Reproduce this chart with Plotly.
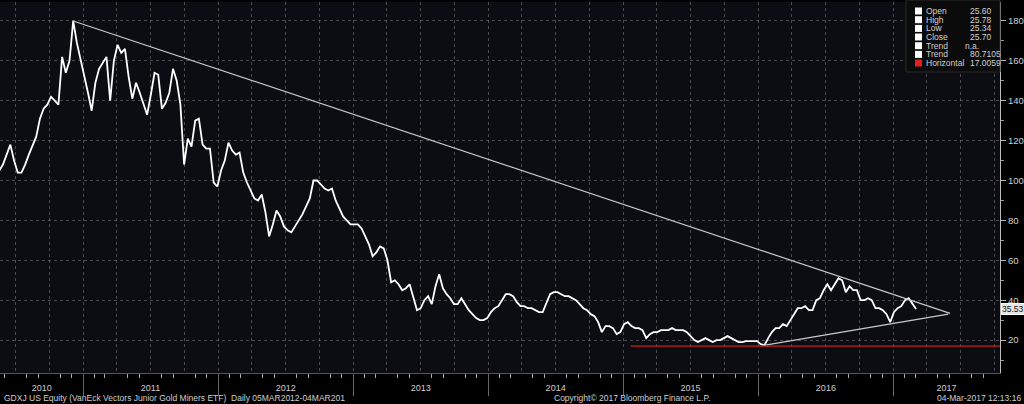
import pandas as pd
import plotly.graph_objects as go

# ---------------- data ----------------
price_end_date = "2017-03-03"
price_values = [
    105, 108, 113, 118, 110, 104, 104, 108, 113, 118,
    122, 131, 136, 138, 142, 140, 138, 162, 154, 160,
    180, 169, 161, 152, 144, 135, 149, 156, 159, 162,
    140, 160, 168, 164, 166, 152, 141, 149, 144, 139,
    133, 143, 154, 153, 136, 139, 144, 156, 150, 138,
    108, 121, 117, 130, 131, 118, 116, 116, 99, 97,
    105, 110, 119, 115, 113, 114, 104, 99, 95, 91,
    90, 93, 84, 72, 78, 85, 82, 77, 75, 74,
    77, 80, 83, 87, 91, 100, 100, 98, 96, 95,
    96, 90, 86, 82, 80, 78, 78, 78, 76, 72,
    68, 62, 64, 67, 66, 60, 49, 50, 48, 45,
    46, 48, 41, 35, 36, 40, 42, 38, 47, 53,
    46, 43, 41, 38, 38, 41, 38, 35, 33, 31,
    30, 30, 31, 34, 36, 37, 40, 43, 43, 42,
    39, 37, 37, 36, 36, 35, 34, 34, 39, 43,
    44, 44, 43, 42, 42, 41, 40, 38, 36, 35,
    33, 32, 29, 24, 27, 27, 26, 23, 24, 28,
    29, 27, 26, 26, 25, 21, 23, 24, 24, 25,
    25, 25, 26, 25, 25, 25, 24, 22, 20, 19,
    20, 21, 20, 19, 20, 20, 21, 22, 21, 20,
    19, 19, 19.5, 19.5, 19.5, 19.5, 18, 17.5, 21, 24,
    26, 26, 28, 27, 30, 33, 36, 36, 37, 35,
    35, 40, 41, 45, 48, 45, 48, 51, 50, 44,
    47, 45, 45, 40, 40, 41, 40, 36, 36, 35,
    33, 29, 34, 36, 37, 40, 41, 38, 35.53,
]
price_dates = pd.date_range(end=price_end_date, periods=len(price_values), freq="10D")

# trend lines and horizontal level
upper_trend_dates = ["2010-12-05", "2017-06-03"]
upper_trend_values = [180.0, 33.4]
lower_trend_dates = ["2016-01-12", "2017-05-29"]
lower_trend_values = [17.2, 33.0]
horizontal_dates = ["2015-01-21", "2017-10-16"]
horizontal_level = 17.0059

last_price = 35.53

# legend block
legend_labels = ["Open", "High", "Low", "Close", "Trend", "Trend", "Horizontal"]
legend_values = ["25.60", "25.78", "25.34", "25.70", "n.a.", "80.7105", "17.0059"]
legend_colors = ["#ffffff", "#ffffff", "#ffffff", "#ffffff", "#ffffff", "#ffffff", "#e0201c"]

# axis labels
year_labels = ["2010", "2011", "2012", "2013", "2014", "2015", "2016", "2017"]
year_label_dates = ["2010-09-11", "2011-07-02", "2012-07-02", "2013-07-02",
                    "2014-07-02", "2015-07-02", "2016-07-02", "2017-05-24"]
x_range = ["2010-05-21", "2017-10-16"]
y_range = [3.5, 189.5]

footer_left = "GDXJ US Equity (VanEck Vectors Junior Gold Miners ETF)  Daily 05MAR2012-04MAR201"
footer_mid = "Copyright\u00a9 2017 Bloomberg Finance L.P."
footer_right = "04-Mar-2017 12:13:16"

# ---------------- figure ----------------
FONT = "Liberation Sans"
TXT = "#cfcfcf"
GRID = "rgba(150,150,150,0.45)"

fig = go.Figure()

fig.add_trace(go.Scatter(x=price_dates, y=price_values, mode="lines",
                         line=dict(color="#ffffff", width=1.8), showlegend=False,
                         hoverinfo="x+y"))
fig.add_trace(go.Scatter(x=upper_trend_dates, y=upper_trend_values, mode="lines",
                         line=dict(color="#c8c8c8", width=1.2), showlegend=False))
fig.add_trace(go.Scatter(x=lower_trend_dates, y=lower_trend_values, mode="lines",
                         line=dict(color="#c8c8c8", width=1.2), showlegend=False))
fig.add_trace(go.Scatter(x=horizontal_dates, y=[horizontal_level, horizontal_level], mode="lines",
                         line=dict(color="#c0201c", width=1.2), showlegend=False))
# dummy traces anchoring the overlay axes
fig.add_trace(go.Scatter(x=[price_dates[0]], y=[price_values[0]], xaxis="x2", mode="markers",
                         marker=dict(opacity=0), showlegend=False, hoverinfo="skip"))
fig.add_trace(go.Scatter(x=[price_dates[0]], y=[price_values[0]], xaxis="x3", mode="markers",
                         marker=dict(opacity=0), showlegend=False, hoverinfo="skip"))

L, R, T, B = 0, 24, 2, 31
W, H = 1024, 404
PW, PH = W - L - R, H - T - B


def px(xp):
    return (xp - L) / PW


def py(yp):
    return (H - B - yp) / PH


fig.update_layout(
    width=W, height=H,
    margin=dict(l=L, r=R, t=T, b=B),
    paper_bgcolor="#000000",
    plot_bgcolor="#0c0c13",
    font=dict(family=FONT, size=9, color=TXT),
    xaxis=dict(type="date", range=x_range, tick0="2010-01-01", dtick="M3",
               showgrid=True, gridcolor=GRID, griddash="dot", gridwidth=1,
               ticks="", showticklabels=False, showline=True, linecolor="#555555",
               zeroline=False,
               minor=dict(dtick="M1", tick0="2010-01-01", ticks="outside", ticklen=4,
                          tickcolor="#aaaaaa", showgrid=False)),
    xaxis2=dict(type="date", overlaying="x", matches="x", side="bottom",
                tick0="2011-01-01", dtick="M12", ticks="outside", ticklen=22,
                tickcolor="#666666", showticklabels=False, showgrid=False, zeroline=False),
    xaxis3=dict(type="date", overlaying="x", matches="x", side="bottom",
                tickmode="array", tickvals=year_label_dates, ticktext=year_labels,
                ticks="", showgrid=False, zeroline=False, ticklabelstandoff=8,
                tickfont=dict(size=9, color=TXT, family=FONT)),
    yaxis=dict(side="right", range=y_range, tick0=0, dtick=20, ticks="outside",
               ticklen=5, tickcolor="#bbbbbb", showline=True, linecolor="#bbbbbb",
               showgrid=True, gridcolor=GRID, griddash="dot", zeroline=False,
               tickfont=dict(size=9.5, color=TXT, family=FONT),
               minor=dict(dtick=10, ticks="outside", ticklen=3, tickcolor="#999999",
                          showgrid=False)),
    showlegend=False,
)

shapes = []
annotations = []

# legend box
shapes.append(dict(type="rect", xref="paper", yref="paper",
                   x0=px(906), x1=px(1000), y0=py(72), y1=py(0),
                   fillcolor="#0b0b0b", line=dict(color="#2a2a2a", width=1), layer="above"))
row_y = [11, 19.7, 28.4, 37, 45.7, 54.4, 63]
for i, (lab, val, col) in enumerate(zip(legend_labels, legend_values, legend_colors)):
    yc = row_y[i]
    shapes.append(dict(type="rect", xref="paper", yref="paper",
                       x0=px(915), x1=px(922), y0=py(yc + 3.5), y1=py(yc - 3.5),
                       fillcolor=col, line=dict(width=0), layer="above"))
    annotations.append(dict(xref="paper", yref="paper", x=px(923.5), y=py(yc),
                            text=lab, showarrow=False, xanchor="left", yanchor="middle",
                            font=dict(size=8.5, color=TXT, family=FONT)))
    annotations.append(dict(xref="paper", yref="paper",
                            x=px(963 if val == "n.a." else 967.5), y=py(yc),
                            text=val, showarrow=False, xanchor="left", yanchor="middle",
                            font=dict(size=8.5, color=TXT, family=FONT)))

# last price tag
annotations.append(dict(xref="paper", yref="y", x=px(1000.5), y=last_price,
                        text=f"{last_price:.2f}", showarrow=False, xanchor="left",
                        yanchor="middle", bgcolor="#e6e6e6", bordercolor="#ffffff",
                        borderpad=0, font=dict(size=8.5, color="#111111", family=FONT)))

# footer
annotations.append(dict(xref="paper", yref="paper", x=px(2), y=py(398), text=footer_left,
                        showarrow=False, xanchor="left", yanchor="middle",
                        font=dict(size=8.5, color=TXT, family=FONT)))
annotations.append(dict(xref="paper", yref="paper", x=px(552), y=py(398), text=footer_mid,
                        showarrow=False, xanchor="left", yanchor="middle",
                        font=dict(size=8.5, color=TXT, family=FONT)))
annotations.append(dict(xref="paper", yref="paper", x=px(1023), y=py(398), text=footer_right,
                        showarrow=False, xanchor="right", yanchor="middle",
                        font=dict(size=8.5, color=TXT, family=FONT)))

fig.update_layout(shapes=shapes, annotations=annotations)
fig.write_html("out.html", config={"displayModeBar": False},
               post_script="document.body.style.margin='0';document.body.style.background='#000';")
